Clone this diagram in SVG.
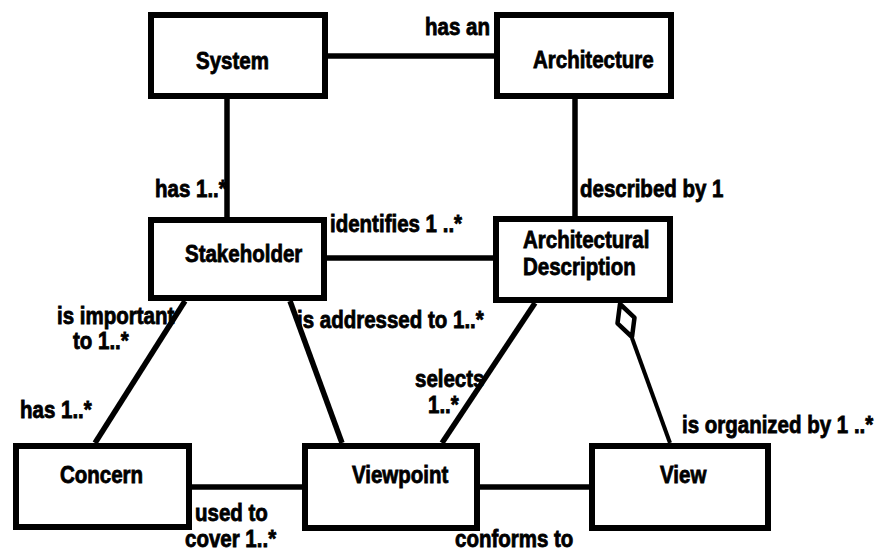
<svg xmlns="http://www.w3.org/2000/svg" width="877" height="551" viewBox="0 0 877 551">
  <style>
    .box { fill: #fff; stroke: #000; stroke-width: 6; }
    .name, .lbl { font-family: "Liberation Sans", Arial, sans-serif; font-weight: bold; font-size: 20.5px; fill: #000; stroke: #000; stroke-width: 0.7; transform-box: fill-box; transform-origin: 50% 78%; transform: scaleY(1.15); }
    .link { stroke: #000; stroke-width: 5.5; fill: none; }
    .agg { stroke: #000; stroke-width: 4; fill: none; }
    .diamond { stroke: #000; stroke-width: 4.5; fill: #fff; stroke-linejoin: round; }
  </style>
  <rect width="877" height="551" fill="#fff"/>

  <!-- association labels (drawn under the lines) -->
  <g id="labels">
    <text class="lbl" x="425" y="35">has an</text>
    <text class="lbl" x="155" y="197">has 1..*</text>
    <text class="lbl" x="330" y="232">identifies 1 ..*</text>
    <text class="lbl" x="580" y="197">described by 1</text>
    <text class="lbl" x="57" y="324">is important</text>
    <text class="lbl" x="73" y="349">to 1..*</text>
    <text class="lbl" x="20" y="418">has 1..*</text>
    <text class="lbl" x="297" y="328">is addressed to 1..*</text>
    <text class="lbl" x="415" y="387">selects</text>
    <text class="lbl" x="428" y="413">1..*</text>
    <text class="lbl" x="195" y="521">used to</text>
    <text class="lbl" x="185" y="547">cover 1..*</text>
    <text class="lbl" x="455" y="547">conforms to</text>
    <text class="lbl" x="682" y="433">is organized by 1 ..*</text>
  </g>

  <!-- associations between the classes -->
  <g id="connectors">
    <line class="link" x1="328" y1="56" x2="494" y2="56"/>
    <line class="link" x1="227" y1="99" x2="227" y2="217"/>
    <line class="link" x1="575" y1="99" x2="575" y2="216"/>
    <line class="link" x1="327" y1="258" x2="493" y2="258"/>
    <line class="link" x1="185" y1="301" x2="95" y2="443"/>
    <line class="link" x1="290" y1="301" x2="342" y2="443"/>
    <line class="link" x1="535" y1="303" x2="442" y2="443"/>
    <line class="link" x1="192" y1="487" x2="302" y2="487"/>
    <line class="link" x1="480" y1="487" x2="589" y2="487"/>
    <!-- aggregation: Architectural Description is organized by Views -->
    <line class="agg" x1="632" y1="338" x2="670" y2="443"/>
    <polygon class="diamond" points="620,304 634.5,317.6 632,337 617.5,323.4"/>
  </g>

  <g id="system">
    <rect class="box" x="151" y="15" width="174" height="81"/>
    <text class="name" x="196" y="69">System</text>
  </g>
  <g id="architecture">
    <rect class="box" x="497" y="15" width="174" height="81"/>
    <text class="name" x="533" y="68">Architecture</text>
  </g>
  <g id="stakeholder">
    <rect class="box" x="151" y="220" width="173" height="78"/>
    <text class="name" x="185" y="262">Stakeholder</text>
  </g>
  <g id="architectural-description">
    <rect class="box" x="496" y="219" width="174" height="81"/>
    <text class="name" x="523" y="248">Architectural</text>
    <text class="name" x="523" y="275">Description</text>
  </g>
  <g id="concern">
    <rect class="box" x="16" y="446" width="173" height="81"/>
    <text class="name" x="60" y="483">Concern</text>
  </g>
  <g id="viewpoint">
    <rect class="box" x="305" y="446" width="172" height="82"/>
    <text class="name" x="352" y="483">Viewpoint</text>
  </g>
  <g id="view">
    <rect class="box" x="592" y="446" width="176" height="82"/>
    <text class="name" x="660" y="483">View</text>
  </g>
</svg>
